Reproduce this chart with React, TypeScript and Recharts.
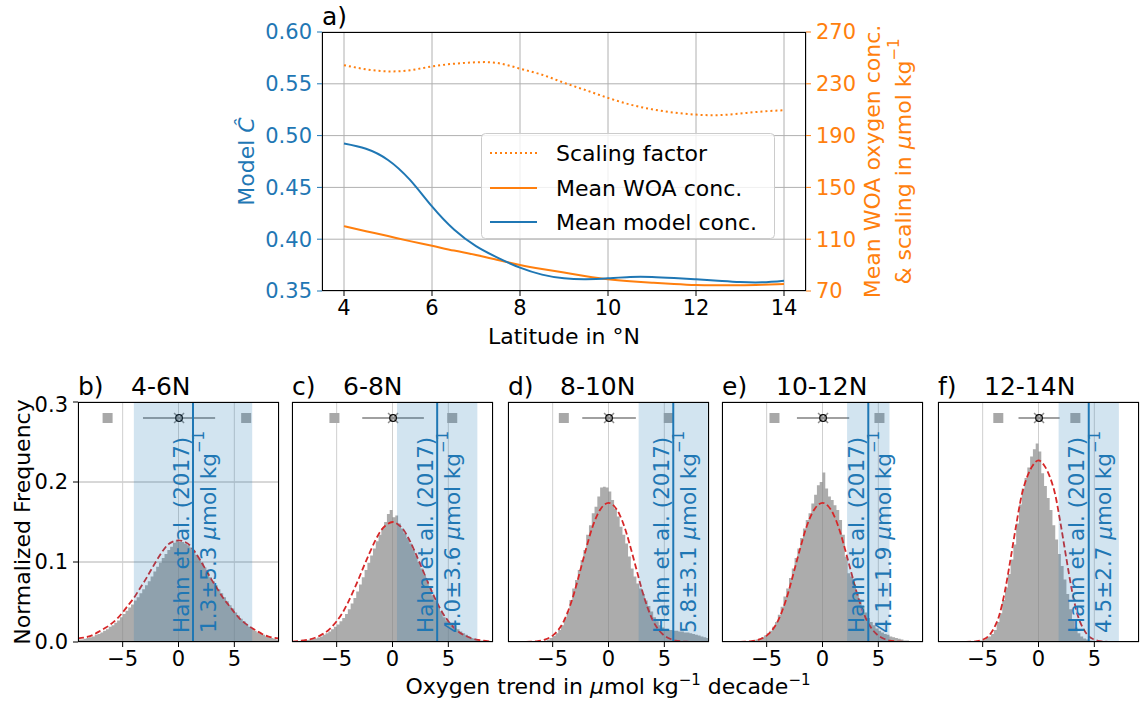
import React from "react";
import {
  ComposedChart,
  Line,
  Area,
  Scatter,
  XAxis,
  YAxis,
  CartesianGrid,
  ReferenceArea,
  ReferenceLine,
} from "recharts";

const FONT = "'DejaVu Sans', 'Liberation Sans', sans-serif";
const BLUE = "#1f77b4";
const ORANGE = "#ff7f0e";
const RED = "#d62728";

// panel a: profiles along latitude
const latitude = [4, 4.5, 5, 5.5, 6, 6.5, 7, 7.5, 8, 8.5, 9, 9.5, 10, 10.5, 11, 11.5, 12, 12.5, 13, 13.5, 14];
const meanModelConc = [
  0.4924, 0.4873, 0.4765, 0.4572, 0.4316, 0.4093, 0.3933, 0.382, 0.3725, 0.3658, 0.3622,
  0.3613, 0.3622, 0.3635, 0.3635, 0.3625, 0.3613, 0.36, 0.3587, 0.3584, 0.36,
];
const meanWoaConc = [
  120.1, 116.2, 112.4, 108.5, 104.9, 101.2, 97.8, 93.9, 90.1, 87, 84.2, 81.4, 79, 77.5,
  76.4, 75.4, 74.6, 74.4, 74.4, 74.8, 75.4,
];
const scalingFactor = [
  244.4, 241.2, 239.6, 240.5, 243.4, 245.5, 246.6, 246, 241.7, 237, 230.8, 225, 219.1, 214,
  210.3, 207.8, 206.2, 205.8, 207, 208.6, 209.6,
];
const latTicks = [4, 6, 8, 10, 12, 14];
const modelTicks = [0.35, 0.4, 0.45, 0.5, 0.55, 0.6];
const woaTicks = [70, 110, 150, 190, 230, 270];

// panels b-f: trend histograms (bins of 0.25, left edges) and fitted curves
const panelLetters = ["b)", "c)", "d)", "e)", "f)"];
const latBands = ["4-6N", "6-8N", "8-10N", "10-12N", "12-14N"];
const binEdges = [
  -9, -8.75, -8.5, -8.25, -8, -7.75, -7.5, -7.25, -7, -6.75, -6.5, -6.25, -6, -5.75, -5.5,
  -5.25, -5, -4.75, -4.5, -4.25, -4, -3.75, -3.5, -3.25, -3, -2.75, -2.5, -2.25, -2, -1.75,
  -1.5, -1.25, -1, -0.75, -0.5, -0.25, 0, 0.25, 0.5, 0.75, 1, 1.25, 1.5, 1.75, 2, 2.25, 2.5,
  2.75, 3, 3.25, 3.5, 3.75, 4, 4.25, 4.5, 4.75, 5, 5.25, 5.5, 5.75, 6, 6.25, 6.5, 6.75, 7,
  7.25, 7.5, 7.75, 8, 8.25, 8.5, 8.75, 9,
];
const fitGrid = [
  -9, -8.5, -8, -7.5, -7, -6.5, -6, -5.5, -5, -4.5, -4, -3.5, -3, -2.5, -2, -1.5, -1, -0.5, 0,
  0.5, 1, 1.5, 2, 2.5, 3, 3.5, 4, 4.5, 5, 5.5, 6, 6.5, 7, 7.5, 8, 8.5, 9,
];

const histB = [
  0.003, 0.003, 0.004, 0.005, 0.006, 0.007, 0.009, 0.01, 0.012, 0.014,
  0.016, 0.019, 0.021, 0.024, 0.027, 0.031, 0.035, 0.039, 0.043, 0.047,
  0.052, 0.056, 0.061, 0.066, 0.071, 0.076, 0.082, 0.088, 0.094, 0.099,
  0.105, 0.11, 0.115, 0.119, 0.124, 0.127, 0.125, 0.125, 0.123, 0.121,
  0.118, 0.114, 0.109, 0.104, 0.099, 0.093, 0.087, 0.081, 0.076, 0.071,
  0.066, 0.061, 0.056, 0.051, 0.046, 0.042, 0.037, 0.033, 0.029, 0.026,
  0.022, 0.019, 0.017, 0.014, 0.012, 0.01, 0.009, 0.007, 0.006, 0.005,
  0.004, 0.003,
];
const histC = [
  0.0005, 0.001, 0.001, 0.0015, 0.002, 0.0025, 0.003, 0.004, 0.0045, 0.0055,
  0.007, 0.009, 0.011, 0.013, 0.016, 0.019, 0.022, 0.026, 0.03, 0.035,
  0.041, 0.048, 0.055, 0.063, 0.072, 0.081, 0.09, 0.099, 0.108, 0.117,
  0.126, 0.134, 0.142, 0.15, 0.16, 0.165, 0.156, 0.158, 0.148, 0.142,
  0.136, 0.13, 0.123, 0.116, 0.108, 0.1, 0.092, 0.084, 0.076, 0.068,
  0.058, 0.052, 0.044, 0.038, 0.031, 0.027, 0.024, 0.022, 0.021, 0.016,
  0.013, 0.011, 0.009, 0.007, 0.005, 0.004, 0.003, 0.002, 0.002, 0.001,
  0.001, 0.0005,
];
const histD = [
  0, 0, 0, 0, 0, 0, 0, 0, 0, 0, 0,
  0.0005, 0.001, 0.002, 0.003, 0.005, 0.0075, 0.011, 0.015, 0.021, 0.0296,
  0.038, 0.0525, 0.067, 0.0775, 0.09, 0.1025, 0.115, 0.134, 0.146, 0.161,
  0.169, 0.182, 0.193, 0.194, 0.193, 0.188, 0.1775, 0.167, 0.157, 0.144,
  0.134, 0.123, 0.107, 0.092, 0.082, 0.073, 0.067, 0.06, 0.052, 0.045,
  0.038, 0.031, 0.026, 0.021, 0.018, 0.016, 0.015, 0.015, 0.014, 0.014,
  0.013, 0.013, 0.012, 0.012, 0.011, 0.01, 0.009, 0.008, 0.007, 0.006,
  0.005,
];
const histE = [
  0, 0, 0, 0, 0, 0, 0, 0,
  0.001, 0.001, 0.0015, 0.002, 0.003, 0.004, 0.006, 0.008, 0.011, 0.014,
  0.019, 0.025, 0.034, 0.044, 0.057, 0.067, 0.08, 0.092, 0.105, 0.117,
  0.13, 0.142, 0.1525, 0.161, 0.173, 0.184, 0.196, 0.2, 0.212, 0.192,
  0.182, 0.1775, 0.171, 0.165, 0.1525, 0.134, 0.107, 0.086, 0.082, 0.072,
  0.062, 0.053, 0.045, 0.037, 0.03, 0.025, 0.021, 0.017, 0.014, 0.012,
  0.01, 0.009, 0.007, 0.006, 0.005, 0.004, 0.003, 0.002, 0.002, 0.001,
  0.001, 0.0005, 0, 0,
];
const histF = [
  0, 0, 0, 0, 0, 0, 0, 0, 0, 0, 0, 0,
  0.0005, 0.001, 0.001, 0.002, 0.003, 0.005, 0.007, 0.01, 0.015, 0.025,
  0.036, 0.0525, 0.068, 0.085, 0.103, 0.122, 0.148, 0.172, 0.192, 0.205,
  0.218, 0.232, 0.241, 0.248, 0.238, 0.211, 0.195, 0.18, 0.165, 0.146,
  0.128, 0.11, 0.095, 0.078, 0.06, 0.041, 0.027, 0.018, 0.011, 0.007,
  0.0045, 0.003, 0.002, 0.0015, 0.001, 0.0005, 0, 0,
  0, 0, 0, 0, 0, 0, 0, 0, 0, 0, 0, 0,
];

const fitB = [
  0.0045, 0.0055, 0.007, 0.01, 0.014, 0.018, 0.023, 0.029, 0.037, 0.046, 0.055, 0.066, 0.077,
  0.089, 0.101, 0.112, 0.121, 0.1255, 0.127, 0.1255, 0.121, 0.112, 0.101, 0.089, 0.077,
  0.066, 0.055, 0.046, 0.037, 0.029, 0.023, 0.018, 0.014, 0.01, 0.007, 0.0055, 0.0045,
];
const fitC = [
  0.0005, 0.001, 0.002, 0.003, 0.005, 0.008, 0.012, 0.018, 0.026, 0.036, 0.049, 0.064, 0.08,
  0.097, 0.113, 0.128, 0.14, 0.147, 0.15, 0.147, 0.14, 0.128, 0.113, 0.097, 0.08, 0.064,
  0.049, 0.036, 0.026, 0.018, 0.012, 0.008, 0.005, 0.003, 0.002, 0.001, 0.0005,
];
const fitD = [
  0, 0, 0, 0.0001, 0.0003, 0.0008, 0.0018, 0.004, 0.008, 0.015, 0.026, 0.043, 0.065, 0.091,
  0.117, 0.141, 0.159, 0.17, 0.174, 0.17, 0.159, 0.141, 0.117, 0.091, 0.065, 0.043, 0.026,
  0.015, 0.008, 0.004, 0.0018, 0.0008, 0.0003, 0.0001, 0, 0, 0,
];
const fitE = [
  0, 0, 0, 0.0001, 0.0003, 0.0008, 0.0018, 0.004, 0.008, 0.015, 0.026, 0.043, 0.065, 0.091,
  0.117, 0.141, 0.159, 0.17, 0.174, 0.17, 0.159, 0.141, 0.117, 0.091, 0.065, 0.043, 0.026,
  0.015, 0.008, 0.004, 0.0018, 0.0008, 0.0003, 0.0001, 0, 0, 0,
];
const fitF = [
  0, 0, 0, 0, 0, 0.0001, 0.0004, 0.001, 0.003, 0.007, 0.017, 0.034, 0.064, 0.104, 0.146,
  0.184, 0.207, 0.221, 0.227, 0.221, 0.207, 0.184, 0.146, 0.104, 0.064, 0.034, 0.017, 0.007,
  0.003, 0.001, 0.0004, 0.0001, 0, 0, 0, 0, 0,
];
const histograms = [histB, histC, histD, histE, histF];
const fits = [fitB, fitC, fitD, fitE, fitF];

// Hahn et al. (2017) estimate, model trend spread and outer markers
const hahnMean = [1.3, 4.0, 5.8, 4.1, 4.5];
const hahnStd = [5.3, 3.6, 3.1, 1.9, 2.7];
const hahnText = ["1.3±5.3", "4.0±3.6", "5.8±3.1", "4.1±1.9", "4.5±2.7"];
const trendCentre = [0.05, 0.05, 0.05, 0.05, 0.05];
const trendSpread = [3.23, 2.76, 2.4, 2.34, 1.84];
const lowMarker = [-6.35, -5.2, -4.0, -4.3, -3.6];
const highMarker = [6.06, 5.35, 5.4, 5.1, 3.3];
const markerLevel = 0.28;
const trendTicks = [-5, 0, 5];
const freqTicks = [0, 0.1, 0.2, 0.3];

// layout
const panelLeft = [78, 292, 508, 722, 938];
const panelWidth = 201;
const panelTop = 402;
const panelHeight = 240;
const titleGap = [53, 51, 52, 54, 46];

const minus = (v: number) => (v < 0 ? `\u2212${Math.abs(v)}` : `${v}`);

const squareShape = (p: any) => (
  <rect x={p.cx - 5} y={p.cy - 5} width={10} height={10} fill="#a8a8a8" />
);

const centreShape = (p: any) => (
  <g>
    <path
      d={`M${p.cx - 5},${p.cy - 5}L${p.cx + 5},${p.cy + 5}M${p.cx - 5},${p.cy + 5}L${p.cx + 5},${p.cy - 5}`}
      stroke="#8c8c8c"
      strokeWidth={1.5}
    />
    <circle cx={p.cx} cy={p.cy} r={3.3} fill="none" stroke="#000" strokeWidth={1.2} />
  </g>
);

function HahnLabel(props: any) {
  const vb = props.viewBox || {};
  const x = vb.x ?? 0;
  const bottom = (vb.y ?? 0) + (vb.height ?? 0) - 9;
  return (
    <g fill={BLUE} fontSize={21.5} fontFamily={FONT}>
      <text transform={`translate(${x - 12},${bottom}) rotate(-90)`} dominantBaseline="central">
        Hahn et al. (2017)
      </text>
      <text transform={`translate(${x + 15},${bottom}) rotate(-90)`} dominantBaseline="central">
        {props.valueText} <tspan fontStyle="italic">μ</tspan>mol kg
        <tspan dy={-9} fontSize={15}>
          −1
        </tspan>
      </text>
    </g>
  );
}

function TrendPanel({ i }: { i: number }) {
  const hist = histograms[i];
  const histRows = binEdges.map((x, k) => ({ x, hist: hist[Math.min(k, hist.length - 1)] }));
  const fitRows = fitGrid.map((x, k) => ({ x, fit: fits[i][k] }));
  const first = i === 0;
  return (
    <div style={{ position: "absolute", left: panelLeft[i] - 50, top: panelTop - 10 }}>
      <ComposedChart
        width={50 + panelWidth + 1}
        height={10 + panelHeight + 40}
        margin={{ top: 10, right: 1, bottom: 0, left: 0 }}
      >
        <CartesianGrid vertical={false} stroke="#b0b0b0" />
        <CartesianGrid horizontal={false} stroke="#cfcfcf" />
        <XAxis
          type="number"
          dataKey="x"
          domain={[-9, 9]}
          ticks={trendTicks}
          tickFormatter={minus}
          allowDataOverflow
          height={40}
          axisLine={false}
          tickSize={5}
          tickMargin={4}
          tick={{ fill: "#000", fontSize: 21 }}
          tickLine={{ stroke: "#000" }}
        />
        <YAxis
          type="number"
          domain={[0, 0.3]}
          ticks={freqTicks}
          allowDataOverflow
          width={50}
          axisLine={false}
          tickSize={5}
          tickMargin={5}
          tick={first ? { fill: "#000", fontSize: 21 } : false}
          tickFormatter={(v: number) => v.toFixed(1)}
          tickLine={{ stroke: "#000" }}
        />
        <Area
          data={histRows}
          type="stepAfter"
          dataKey="hist"
          stroke="none"
          fill="#808080"
          fillOpacity={0.65}
          isAnimationActive={false}
        />
        <Line
          data={fitRows}
          type="monotone"
          dataKey="fit"
          stroke={RED}
          strokeWidth={1.8}
          strokeDasharray="6 3"
          dot={false}
          isAnimationActive={false}
        />
        <Scatter
          data={[
            { x: lowMarker[i], y: markerLevel },
            { x: highMarker[i], y: markerLevel },
          ]}
          dataKey="y"
          shape={squareShape}
          isAnimationActive={false}
        />
        <ReferenceLine
          segment={[
            { x: trendCentre[i] - trendSpread[i], y: markerLevel },
            { x: trendCentre[i] + trendSpread[i], y: markerLevel },
          ]}
          stroke="#a0a0a0"
          strokeWidth={2}
        />
        <Scatter
          data={[{ x: trendCentre[i], y: markerLevel }]}
          dataKey="y"
          shape={centreShape}
          isAnimationActive={false}
        />
        <ReferenceArea
          x1={hahnMean[i] - hahnStd[i]}
          x2={hahnMean[i] + hahnStd[i]}
          y1={0}
          y2={0.3}
          fill={BLUE}
          fillOpacity={0.2}
          stroke="none"
          zIndex={650}
        />
        <ReferenceLine
          x={hahnMean[i]}
          stroke={BLUE}
          strokeWidth={2}
          zIndex={700}
          label={<HahnLabel valueText={hahnText[i]} />}
        />
      </ComposedChart>
    </div>
  );
}

export default function App() {
  const latRows = latitude.map((lat, k) => ({
    lat,
    model: meanModelConc[k],
    woa: meanWoaConc[k],
    scaling: scalingFactor[k],
  }));

  return (
    <div
      style={{
        position: "absolute",
        left: 0,
        top: 0,
        width: 1140,
        height: 706,
        background: "#fff",
        fontFamily: FONT,
        overflow: "hidden",
      }}
    >
      <div style={{ position: "absolute", left: 0, top: 0 }}>
        <ComposedChart
          width={1140}
          height={360}
          data={latRows}
          margin={{ top: 32, right: 274, bottom: 39, left: 262 }}
        >
          <CartesianGrid yAxisId="left" stroke="#b0b0b0" />
          <XAxis
            type="number"
            dataKey="lat"
            domain={[3.5, 14.5]}
            ticks={latTicks}
            height={30}
            axisLine={false}
            tickSize={5}
            tickMargin={4}
            tick={{ fill: "#000", fontSize: 21 }}
            tickLine={{ stroke: "#000" }}
          />
          <YAxis
            yAxisId="left"
            type="number"
            domain={[0.35, 0.6]}
            ticks={modelTicks}
            tickFormatter={(v: number) => v.toFixed(2)}
            width={60}
            axisLine={false}
            tickSize={5}
            tickMargin={5}
            tick={{ fill: BLUE, fontSize: 21 }}
            tickLine={{ stroke: BLUE }}
          />
          <YAxis
            yAxisId="right"
            orientation="right"
            type="number"
            domain={[70, 270]}
            ticks={woaTicks}
            width={60}
            axisLine={false}
            tickSize={5}
            tickMargin={5}
            tick={{ fill: ORANGE, fontSize: 21 }}
            tickLine={{ stroke: ORANGE }}
          />
          <Line
            yAxisId="right"
            type="natural"
            dataKey="scaling"
            stroke={ORANGE}
            strokeWidth={2}
            strokeDasharray="2 3"
            dot={false}
            isAnimationActive={false}
          />
          <Line
            yAxisId="right"
            type="natural"
            dataKey="woa"
            stroke={ORANGE}
            strokeWidth={2}
            dot={false}
            isAnimationActive={false}
          />
          <Line
            yAxisId="left"
            type="natural"
            dataKey="model"
            stroke={BLUE}
            strokeWidth={2}
            dot={false}
            isAnimationActive={false}
          />
        </ComposedChart>
      </div>

      {latBands.map((_, i) => (
        <TrendPanel key={i} i={i} />
      ))}

      <svg
        width={1140}
        height={706}
        style={{ position: "absolute", left: 0, top: 0, pointerEvents: "none" }}
        fontFamily={FONT}
      >
        {/* frames */}
        <rect x={322.5} y={32.5} width={483} height={258} fill="none" stroke="#000" />
        {panelLeft.map((l, i) => (
          <rect
            key={i}
            x={l + 0.5}
            y={panelTop + 0.5}
            width={panelWidth - 1}
            height={panelHeight - 1}
            fill="none"
            stroke="#000"
          />
        ))}

        {/* legend */}
        <rect
          x={481.5}
          y={133.5}
          width={293}
          height={105}
          rx={4}
          fill="#fff"
          fillOpacity={0.8}
          stroke="#cccccc"
        />
        <line x1={490} x2={537} y1={153} y2={153} stroke={ORANGE} strokeWidth={2} strokeDasharray="2 3" />
        <line x1={490} x2={537} y1={188} y2={188} stroke={ORANGE} strokeWidth={2} />
        <line x1={490} x2={537} y1={222} y2={222} stroke={BLUE} strokeWidth={2} />
        <g fontSize={22} fill="#000">
          <text x={556} y={161}>Scaling factor</text>
          <text x={556} y={196}>Mean WOA conc.</text>
          <text x={556} y={230}>Mean model conc.</text>
        </g>

        {/* panel a texts */}
        <text x={322} y={25} fontSize={25}>
          a)
        </text>
        <text
          transform="translate(246,161.5) rotate(-90)"
          textAnchor="middle"
          dominantBaseline="central"
          fontSize={22}
          fill={BLUE}
        >
          Model <tspan fontStyle="italic">Ĉ</tspan>
        </text>
        <text
          transform="translate(872,161.5) rotate(-90)"
          textAnchor="middle"
          dominantBaseline="central"
          fontSize={22}
          fill={ORANGE}
        >
          Mean WOA oxygen conc.
        </text>
        <text
          transform="translate(903,161.5) rotate(-90)"
          textAnchor="middle"
          dominantBaseline="central"
          fontSize={22}
          fill={ORANGE}
        >
          &amp; scaling in <tspan fontStyle="italic">μ</tspan>mol kg
          <tspan dy={-9} fontSize={15}>
            −1
          </tspan>
        </text>
        <text x={564} y={344} textAnchor="middle" fontSize={22}>
          Latitude in °N
        </text>

        {/* panel b-f titles */}
        {panelLeft.map((l, i) => (
          <g key={i} fontSize={25}>
            <text x={l} y={395}>
              {panelLetters[i]}
            </text>
            <text x={l + titleGap[i]} y={395}>
              {latBands[i]}
            </text>
          </g>
        ))}
        <text
          transform="translate(22,522) rotate(-90)"
          textAnchor="middle"
          dominantBaseline="central"
          fontSize={22}
        >
          Normalized Frequency
        </text>
        <text x={608} y={694} textAnchor="middle" fontSize={22}>
          Oxygen trend in <tspan fontStyle="italic">μ</tspan>mol kg
          <tspan dy={-9} fontSize={15}>
            −1
          </tspan>
          <tspan dy={9}> decade</tspan>
          <tspan dy={-9} fontSize={15}>
            −1
          </tspan>
        </text>
      </svg>
    </div>
  );
}
